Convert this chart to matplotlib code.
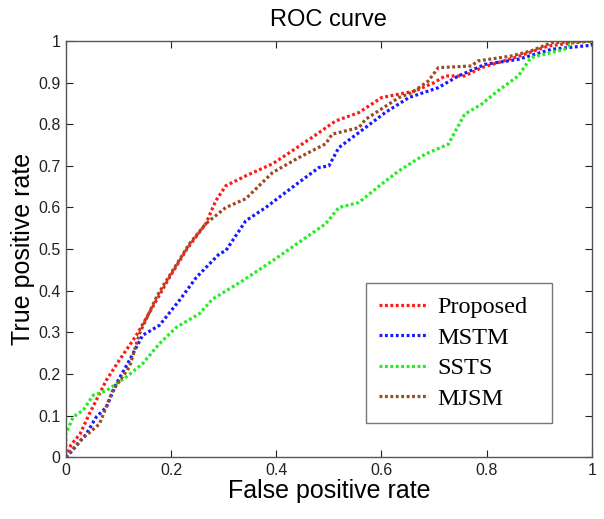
import matplotlib
matplotlib.use('Agg')
import matplotlib.pyplot as plt

# values
prop_fpr = [0, 0.01, 0.027, 0.045, 0.077, 0.1, 0.134, 0.16, 0.197, 0.23, 0.266, 0.285, 0.304, 0.342,
            0.393, 0.43, 0.47, 0.513, 0.557, 0.6, 0.664, 0.7, 0.721, 0.758, 0.79, 0.853, 0.917, 0.96, 1]
prop_tpr = [0, 0.03, 0.056, 0.105, 0.185, 0.23, 0.293, 0.35, 0.432, 0.5, 0.561, 0.616, 0.652, 0.676,
            0.705, 0.736, 0.77, 0.808, 0.828, 0.864, 0.88, 0.90, 0.916, 0.916, 0.936, 0.96, 0.988, 0.995, 1]

mstm_fpr = [0, 0.008, 0.039, 0.058, 0.077, 0.096, 0.121, 0.146, 0.178, 0.216, 0.248, 0.292, 0.304, 0.342,
            0.38, 0.43, 0.481, 0.5, 0.519, 0.557, 0.607, 0.652, 0.708, 0.746, 0.797, 0.86, 0.923, 1, 1]
mstm_tpr = [0, 0.01, 0.056, 0.097, 0.12, 0.177, 0.233, 0.293, 0.317, 0.377, 0.432, 0.489, 0.496, 0.568,
            0.6, 0.648, 0.696, 0.70, 0.744, 0.78, 0.828, 0.864, 0.888, 0.916, 0.944, 0.956, 0.98, 0.99, 1]

ssts_fpr = [0, 0, 0.014, 0.033, 0.052, 0.077, 0.115, 0.146, 0.178, 0.21, 0.254, 0.279, 0.336, 0.393, 0.443,
            0.494, 0.519, 0.557, 0.6, 0.633, 0.683, 0.727, 0.758, 0.79, 0.821, 0.86, 0.884, 0.948, 0.967, 1]
ssts_tpr = [0, 0.056, 0.097, 0.113, 0.149, 0.16, 0.193, 0.225, 0.273, 0.312, 0.345, 0.38, 0.424, 0.472, 0.516,
            0.561, 0.60, 0.612, 0.656, 0.688, 0.728, 0.752, 0.824, 0.848, 0.88, 0.916, 0.96, 0.98, 1, 1]

mjsm_fpr = [0, 0.027, 0.064, 0.089, 0.121, 0.14, 0.172, 0.184, 0.197, 0.235, 0.266, 0.304, 0.342, 0.393,
            0.443, 0.494, 0.506, 0.557, 0.57, 0.633, 0.658, 0.689, 0.708, 0.771, 0.783, 0.847, 0.884, 0.923, 1]
mjsm_tpr = [0, 0.04, 0.08, 0.16, 0.217, 0.297, 0.384, 0.41, 0.436, 0.513, 0.561, 0.6, 0.621, 0.684,
            0.72, 0.753, 0.776, 0.792, 0.812, 0.864, 0.876, 0.904, 0.936, 0.94, 0.952, 0.964, 0.976, 0.996, 1]

labels = ['Proposed', 'MSTM', 'SSTS', 'MJSM']
colors = ['#ff1a1a', '#1a1aff', '#22ee22', '#9c4a1f']
xticks = [0, 0.2, 0.4, 0.6, 0.8, 1]
yticks = [0, 0.1, 0.2, 0.3, 0.4, 0.5, 0.6, 0.7, 0.8, 0.9, 1]

fig = plt.figure(figsize=(6.04, 5.19), dpi=100)
ax = fig.add_axes([0.109, 0.119, 0.871, 0.802])

curves = [(prop_fpr, prop_tpr), (mstm_fpr, mstm_tpr), (ssts_fpr, ssts_tpr), (mjsm_fpr, mjsm_tpr)]
for (fx, ty), lab, c in zip(curves, labels, colors):
    ax.plot(fx, ty, ls=(0, (0.9, 0.8)), lw=2.3, color=c, label=lab)

ax.set_xlim(0, 1)
ax.set_ylim(0, 1)
ax.set_xticks(xticks)
ax.set_xticklabels(['0', '0.2', '0.4', '0.6', '0.8', '1'])
ax.set_yticks(yticks)
ax.set_yticklabels(['0', '0.1', '0.2', '0.3', '0.4', '0.5', '0.6', '0.7', '0.8', '0.9', '1'])
ax.tick_params(direction='in', top=True, right=True, length=5, width=0.8,
               labelsize=11.5, colors='#222222', pad=4)
for s in ax.spines.values():
    s.set_color('#555555')
    s.set_linewidth(1.0)

font = 'Liberation Sans'
for t in ax.get_xticklabels() + ax.get_yticklabels():
    t.set_family(font)
ax.set_title('ROC curve', fontsize=17, family=font, pad=11)
ax.set_xlabel('False positive rate', fontsize=18, family=font, labelpad=1)
ax.set_ylabel('True positive rate', fontsize=18, family=font, labelpad=2)

leg = ax.legend(loc='lower left', bbox_to_anchor=(0.57, 0.082, 0.354, 0.335), mode='expand',
                frameon=True, fancybox=False,
                prop={'family': 'Liberation Serif', 'size': 17.5}, handlelength=2.0,
                labelspacing=0.35, borderpad=0.55, handletextpad=0.4, borderaxespad=0)
leg.get_frame().set_edgecolor('#555555')
leg.get_frame().set_linewidth(1.0)

fig.savefig('out.png', dpi=100)
